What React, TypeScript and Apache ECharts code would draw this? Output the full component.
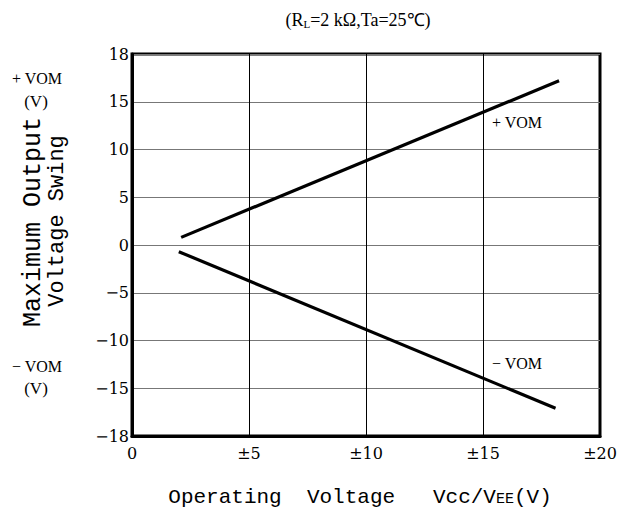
import React, { useEffect, useRef } from "react";
import * as echarts from "echarts";

const xTicks = [0, 5, 10, 15, 20];
const posVomX = [2.1, 18.25];
const posVomY = [0.8, 17.2];
const negVomX = [2.0, 18.1];
const negVomY = [-0.7, -17.1];
const yEndLabels: Record<string, string> = { "20": "18", "-20": "\u221218" };

export default function App() {
  const ref = useRef<HTMLDivElement>(null);
  useEffect(() => {
    if (!ref.current) return;
    const chart = echarts.init(ref.current, undefined, { renderer: "svg" });
    const serif = "'DejaVu Serif'";
    const times = "'Liberation Serif'";
    const mono = "'Liberation Mono'";
    chart.setOption({
      animation: false,
      backgroundColor: "#fff",
      grid: { left: 132, right: 21, top: 54, bottom: 75, show: true, borderColor: "#000", borderWidth: 3, backgroundColor: "transparent" },
      xAxis: {
        type: "value", min: 0, max: 20, interval: 5,
        axisLine: { show: true, onZero: false, lineStyle: { color: "#000", width: 3 } },
        axisTick: { show: false },
        splitLine: { show: true, lineStyle: { color: "#000", width: 1 } },
        axisLabel: {
          margin: 9, color: "#000", fontFamily: serif, fontSize: 16,
          formatter: (v: number) => (xTicks.includes(v) && v !== 0 ? "\u00b1" + v : String(v)),
        },
      },
      yAxis: {
        type: "value", min: -20, max: 20, interval: 5,
        axisLine: { show: true, onZero: false, lineStyle: { color: "#000", width: 3 } },
        axisTick: { show: false },
        splitLine: { show: true, lineStyle: { color: "#777", width: 1.2 } },
        axisLabel: {
          margin: 3, color: "#000", fontFamily: serif, fontSize: 16,
          formatter: (v: number) => yEndLabels[String(v)] ?? (v < 0 ? "\u2212" + Math.abs(v) : String(v)),
        },
      },
      series: [
        {
          type: "line", symbol: "none", silent: true,
          data: posVomX.map((x, i) => [x, posVomY[i]]),
          lineStyle: { color: "#000", width: 3.2 },
        },
        {
          type: "line", symbol: "none", silent: true,
          data: negVomX.map((x, i) => [x, negVomY[i]]),
          lineStyle: { color: "#000", width: 3.2 },
        },
      ],
      graphic: [
        {
          type: "text", x: 358, y: 20,
          style: {
            text: "(R{s|L}=2 k\u03a9,Ta=25\u2103)",
            fontFamily: times, fontSize: 18, fill: "#000", align: "center", verticalAlign: "middle",
            rich: { s: { fontFamily: times, fontSize: 11, padding: [8, 0, 0, 0] } },
          },
        },
        {
          type: "text", x: 360, y: 497,
          style: {
            text: "Operating  Voltage   Vcc/V{s|EE}(V)",
            fontFamily: mono, fontSize: 21, fill: "#000", align: "center", verticalAlign: "middle",
            rich: { s: { fontFamily: mono, fontSize: 15, padding: [4, 0, 0, 0] } },
          },
        },
        {
          type: "text", x: 33, y: 222, rotation: Math.PI / 2,
          style: { text: "Maximum Output", fontFamily: mono, fontSize: 25, fill: "#000", align: "center", verticalAlign: "middle" },
        },
        {
          type: "text", x: 57, y: 221, rotation: Math.PI / 2,
          style: { text: "Voltage Swing", fontFamily: mono, fontSize: 22, fill: "#000", align: "center", verticalAlign: "middle" },
        },
        { type: "text", x: 37, y: 78, style: { text: "+ VOM", fontFamily: times, fontSize: 16, fill: "#000", align: "center", verticalAlign: "middle" } },
        { type: "text", x: 36, y: 101, style: { text: "(V)", fontFamily: times, fontSize: 17, fill: "#000", align: "center", verticalAlign: "middle" } },
        { type: "text", x: 37, y: 366, style: { text: "\u2212 VOM", fontFamily: times, fontSize: 16, fill: "#000", align: "center", verticalAlign: "middle" } },
        { type: "text", x: 36, y: 388, style: { text: "(V)", fontFamily: times, fontSize: 17, fill: "#000", align: "center", verticalAlign: "middle" } },
        { type: "text", x: 517, y: 122, style: { text: "+ VOM", fontFamily: times, fontSize: 16, fill: "#000", align: "center", verticalAlign: "middle" } },
        { type: "text", x: 517, y: 363, style: { text: "\u2212 VOM", fontFamily: times, fontSize: 16, fill: "#000", align: "center", verticalAlign: "middle" } },
      ],
    });
    return () => chart.dispose();
  }, []);
  return <div ref={ref} style={{ width: 621, height: 511, position: "absolute", left: 0, top: 0 }} />;
}
